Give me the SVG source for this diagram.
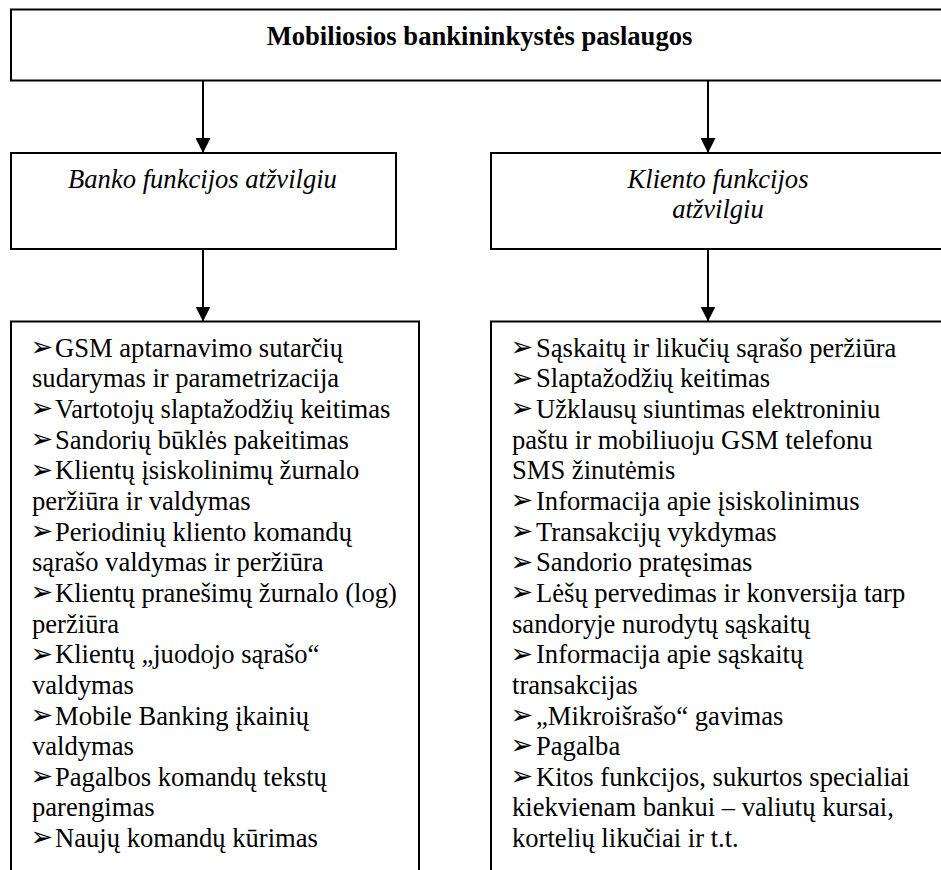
<svg xmlns="http://www.w3.org/2000/svg" width="941" height="870" viewBox="0 0 941 870">
<defs>
<style>
.box{fill:#fff;stroke:#000;stroke-width:2}
.con{stroke:#000;stroke-width:2;fill:none}
</style>
<marker id="ah" markerUnits="userSpaceOnUse" markerWidth="15" markerHeight="15" refX="15" refY="7.5" orient="auto">
<path d="M0,0 L15,7.5 L0,15 Z" fill="#000"/>
</marker>
</defs>
<rect width="941" height="870" fill="#fff"/>
<g id="top">
<rect class="box" x="11" y="9.5" width="937" height="71"/>
<text style="font-family:'Liberation Serif',serif;font-size:26.6px;font-weight:bold" x="479.5" y="45" text-anchor="middle">Mobiliosios bankininkystės paslaugos</text>
</g>
<g id="bank">
<rect class="box" x="11" y="153" width="385" height="96"/>
<text style="font-family:'Liberation Serif',serif;font-size:26.6px;font-style:italic" x="202.5" y="188" text-anchor="middle">Banko funkcijos atžvilgiu</text>
</g>
<g id="client">
<rect class="box" x="491" y="153" width="454" height="96"/>
<text style="font-family:'Liberation Serif',serif;font-size:26.6px;font-style:italic" x="718" y="188" text-anchor="middle">Kliento funkcijos</text>
<text style="font-family:'Liberation Serif',serif;font-size:26.6px;font-style:italic" x="718" y="218" text-anchor="middle">atžvilgiu</text>
</g>
<g id="bank-list">
<rect class="box" x="11" y="321.5" width="408" height="560"/>
<text style="font-family:'DejaVu Sans',sans-serif;font-size:27px" x="30.5" y="356">➢</text>
<text style="font-family:'DejaVu Sans',sans-serif;font-size:27px" x="30.5" y="417.3">➢</text>
<text style="font-family:'DejaVu Sans',sans-serif;font-size:27px" x="30.5" y="448">➢</text>
<text style="font-family:'DejaVu Sans',sans-serif;font-size:27px" x="30.5" y="478.6">➢</text>
<text style="font-family:'DejaVu Sans',sans-serif;font-size:27px" x="30.5" y="539.9">➢</text>
<text style="font-family:'DejaVu Sans',sans-serif;font-size:27px" x="30.5" y="601.2">➢</text>
<text style="font-family:'DejaVu Sans',sans-serif;font-size:27px" x="30.5" y="662.5">➢</text>
<text style="font-family:'DejaVu Sans',sans-serif;font-size:27px" x="30.5" y="723.8">➢</text>
<text style="font-family:'DejaVu Sans',sans-serif;font-size:27px" x="30.5" y="785.1">➢</text>
<text style="font-family:'DejaVu Sans',sans-serif;font-size:27px" x="30.5" y="846.4">➢</text>
<text style="font-family:'Liberation Serif',serif;font-size:26.6px" x="55" y="356.7">GSM aptarnavimo sutarčių</text>
<text style="font-family:'Liberation Serif',serif;font-size:26.6px" x="32" y="387.3">sudarymas ir parametrizacija</text>
<text style="font-family:'Liberation Serif',serif;font-size:26.6px" x="55" y="418">Vartotojų slaptažodžių keitimas</text>
<text style="font-family:'Liberation Serif',serif;font-size:26.6px" x="55" y="448.6">Sandorių būklės pakeitimas</text>
<text style="font-family:'Liberation Serif',serif;font-size:26.6px" x="55" y="479.3">Klientų įsiskolinimų žurnalo</text>
<text style="font-family:'Liberation Serif',serif;font-size:26.6px" x="32" y="509.9">peržiūra ir valdymas</text>
<text style="font-family:'Liberation Serif',serif;font-size:26.6px" x="55" y="540.6">Periodinių kliento komandų</text>
<text style="font-family:'Liberation Serif',serif;font-size:26.6px" x="32" y="571.2">sąrašo valdymas ir peržiūra</text>
<text style="font-family:'Liberation Serif',serif;font-size:26.6px" x="55" y="601.9">Klientų pranešimų žurnalo (log)</text>
<text style="font-family:'Liberation Serif',serif;font-size:26.6px" x="32" y="632.5">peržiūra</text>
<text style="font-family:'Liberation Serif',serif;font-size:26.6px" x="55" y="663.2">Klientų „juodojo sąrašo“</text>
<text style="font-family:'Liberation Serif',serif;font-size:26.6px" x="32" y="693.8">valdymas</text>
<text style="font-family:'Liberation Serif',serif;font-size:26.6px" x="55" y="724.5">Mobile Banking įkainių</text>
<text style="font-family:'Liberation Serif',serif;font-size:26.6px" x="32" y="755.1">valdymas</text>
<text style="font-family:'Liberation Serif',serif;font-size:26.6px" x="55" y="785.8">Pagalbos komandų tekstų</text>
<text style="font-family:'Liberation Serif',serif;font-size:26.6px" x="32" y="816.4">parengimas</text>
<text style="font-family:'Liberation Serif',serif;font-size:26.6px" x="55" y="847.1">Naujų komandų kūrimas</text>
</g>
<g id="client-list">
<rect class="box" x="491" y="321.5" width="454" height="560"/>
<text style="font-family:'DejaVu Sans',sans-serif;font-size:27px" x="510.5" y="356">➢</text>
<text style="font-family:'DejaVu Sans',sans-serif;font-size:27px" x="510.5" y="386.6">➢</text>
<text style="font-family:'DejaVu Sans',sans-serif;font-size:27px" x="510.5" y="417.3">➢</text>
<text style="font-family:'DejaVu Sans',sans-serif;font-size:27px" x="510.5" y="509.2">➢</text>
<text style="font-family:'DejaVu Sans',sans-serif;font-size:27px" x="510.5" y="539.9">➢</text>
<text style="font-family:'DejaVu Sans',sans-serif;font-size:27px" x="510.5" y="570.5">➢</text>
<text style="font-family:'DejaVu Sans',sans-serif;font-size:27px" x="510.5" y="601.2">➢</text>
<text style="font-family:'DejaVu Sans',sans-serif;font-size:27px" x="510.5" y="662.5">➢</text>
<text style="font-family:'DejaVu Sans',sans-serif;font-size:27px" x="510.5" y="723.8">➢</text>
<text style="font-family:'DejaVu Sans',sans-serif;font-size:27px" x="510.5" y="754.4">➢</text>
<text style="font-family:'DejaVu Sans',sans-serif;font-size:27px" x="510.5" y="785.1">➢</text>
<text style="font-family:'Liberation Serif',serif;font-size:26.6px" x="536" y="356.7">Sąskaitų ir likučių sąrašo peržiūra</text>
<text style="font-family:'Liberation Serif',serif;font-size:26.6px" x="536" y="387.3">Slaptažodžių keitimas</text>
<text style="font-family:'Liberation Serif',serif;font-size:26.6px" x="536" y="418">Užklausų siuntimas elektroniniu</text>
<text style="font-family:'Liberation Serif',serif;font-size:26.6px" x="512" y="448.6">paštu ir mobiliuoju GSM telefonu</text>
<text style="font-family:'Liberation Serif',serif;font-size:26.6px" x="512" y="479.3">SMS žinutėmis</text>
<text style="font-family:'Liberation Serif',serif;font-size:26.6px" x="536" y="509.9">Informacija apie įsiskolinimus</text>
<text style="font-family:'Liberation Serif',serif;font-size:26.6px" x="536" y="540.6">Transakcijų vykdymas</text>
<text style="font-family:'Liberation Serif',serif;font-size:26.6px" x="536" y="571.2">Sandorio pratęsimas</text>
<text style="font-family:'Liberation Serif',serif;font-size:26.6px" x="536" y="601.9">Lėšų pervedimas ir konversija tarp</text>
<text style="font-family:'Liberation Serif',serif;font-size:26.6px" x="512" y="632.5">sandoryje nurodytų sąskaitų</text>
<text style="font-family:'Liberation Serif',serif;font-size:26.6px" x="536" y="663.2">Informacija apie sąskaitų</text>
<text style="font-family:'Liberation Serif',serif;font-size:26.6px" x="512" y="693.8">transakcijas</text>
<text style="font-family:'Liberation Serif',serif;font-size:26.6px" x="536" y="724.5">„Mikroišrašo“ gavimas</text>
<text style="font-family:'Liberation Serif',serif;font-size:26.6px" x="536" y="755.1">Pagalba</text>
<text style="font-family:'Liberation Serif',serif;font-size:26.6px" x="536" y="785.8">Kitos funkcijos, sukurtos specialiai</text>
<text style="font-family:'Liberation Serif',serif;font-size:26.6px" x="512" y="816.4">kiekvienam bankui – valiutų kursai,</text>
<text style="font-family:'Liberation Serif',serif;font-size:26.6px" x="512" y="847.1">kortelių likučiai ir t.t.</text>
</g>
<g id="connectors">
<line class="con" x1="203" y1="80.5" x2="203" y2="153" marker-end="url(#ah)"/>
<line class="con" x1="708" y1="80.5" x2="708" y2="153" marker-end="url(#ah)"/>
<line class="con" x1="203" y1="249" x2="203" y2="321.5" marker-end="url(#ah)"/>
<line class="con" x1="708" y1="249" x2="708" y2="321.5" marker-end="url(#ah)"/>
</g>
</svg>
